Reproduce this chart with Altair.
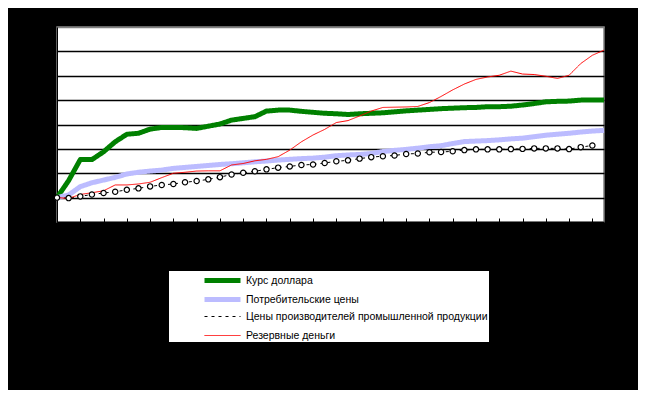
import altair as alt
import pandas as pd

months = list(range(48))

series_names = [
    "Курс доллара",
    "Потребительские цены",
    "Цены производителей промышленной продукции",
    "Резервные деньги",
]

dollar = [100, 170, 256, 256, 288, 329, 360, 364, 381, 388, 388, 387, 384, 393, 402, 418,
          425, 432, 455, 459, 459, 454, 450, 446, 444, 441, 444, 446, 448, 452, 456, 459,
          462, 465, 467, 469, 470, 473, 473, 475, 480, 486, 493, 495, 496, 500, 501, 501]

cpi = [100, 111, 145, 161, 172, 183, 197, 204, 209, 213, 220, 224, 228, 232, 236, 239,
       243, 247, 250, 254, 257, 260, 262, 266, 272, 275, 277, 281, 289, 294, 298, 303,
       309, 313, 322, 330, 332, 334, 337, 341, 344, 350, 356, 360, 364, 369, 373, 376]

ppi = [100, 98, 105, 113, 119, 124, 132, 138, 146, 152, 156, 163, 168, 175, 184, 195,
       202, 208, 216, 223, 228, 234, 236, 242, 249, 253, 260, 266, 270, 273, 279, 281,
       286, 287, 290, 295, 298, 298, 298, 299, 300, 302, 302, 302, 299, 307, 314]

reserve = [100, 97, 113, 120, 128, 152, 152, 156, 163, 182, 200, 204, 209, 210, 210, 234,
           240, 251, 257, 268, 295, 329, 357, 380, 408, 416, 435, 455, 470, 471, 472, 474,
           490, 515, 542, 566, 585, 595, 602, 619, 607, 605, 598, 589, 602, 650, 684, 705]

colors = ["#008000", "#bcbcff", "#000000", "#ff0000"]
widths = [5, 5, 1, 1]
dashes = [[1, 0], [1, 0], [3, 4], [1, 0]]

rows = []
for name, vals in zip(series_names, [dollar, cpi, ppi, reserve]):
    for m, v in zip(months, vals):
        rows.append({"month": m, "value": v, "series": name})
df = pd.DataFrame(rows)

legend = alt.Legend(
    title=None, orient="none", legendX=112, legendY=244,
    fillColor="white", padding=1, symbolType="M-3,0H3", symbolSize=144,
    symbolOffset=44, labelOffset=15, labelFont="Liberation Sans",
    labelFontSize=10.5, labelColor="black", labelLimit=500,
    gridAlign="all", rowPadding=-16,
)

x = alt.X("month:Q", scale=alt.Scale(domain=[0, 47], nice=False, zero=False),
          axis=alt.Axis(values=list(range(0, 47, 2)), labels=False, grid=False,
                        domain=False, tickSize=4, offset=-4, tickColor="black",
                        tickWidth=1, title=None))
y = alt.Y("value:Q", scale=alt.Scale(domain=[0, 800], nice=False),
          axis=alt.Axis(values=list(range(0, 801, 100)), labels=False, ticks=False,
                        domain=True, domainColor="black", grid=True,
                        gridColor={"condition": {"test": "datum.value == 800", "value": "#808080"},
                                   "value": "black"},
                        gridWidth=1.5, title=None))

lines = alt.Chart(df).mark_line(strokeCap="butt", strokeJoin="round").encode(
    x=x, y=y,
    color=alt.Color("series:N", scale=alt.Scale(domain=series_names, range=colors), legend=legend),
    strokeWidth=alt.StrokeWidth("series:N", scale=alt.Scale(type="ordinal", domain=series_names, range=widths), legend=legend),
    strokeDash=alt.StrokeDash("series:N", scale=alt.Scale(domain=series_names, range=dashes), legend=legend),
    detail="series:N",
)

points = alt.Chart(df).transform_filter(
    alt.datum.series == series_names[2]
).mark_point(shape="circle", filled=True, fill="white", stroke="black",
             strokeWidth=1.2, size=28, opacity=1).encode(x=x, y=y)

chart = alt.layer(lines, points).properties(
    width=547, height=195,
    padding={"left": 49, "top": 19, "right": 34, "bottom": 168},
    autosize="none",
    background="black",
).configure_view(fill="white", stroke="#808080", strokeWidth=1.5)

chart.save("out.html", embed_options={"renderer": "svg", "actions": False})
